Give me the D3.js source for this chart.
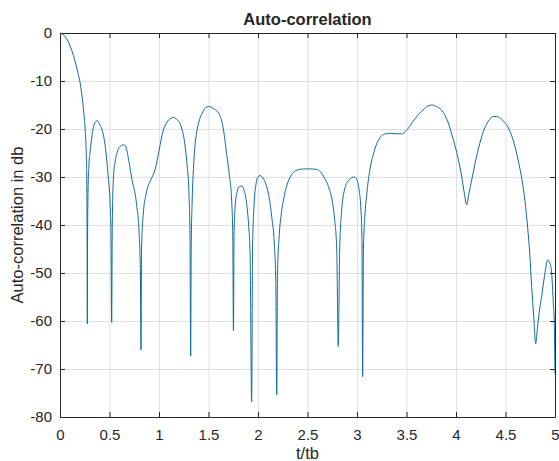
<!DOCTYPE html>
<html>
<head>
<meta charset="utf-8">
<script src="https://cdn.jsdelivr.net/npm/d3@7"></script>
<style>
  body { margin: 0; background: #fff; }
  text { font-family: "Liberation Sans", Arial, Helvetica, sans-serif; fill: #262626; }
</style>
</head>
<body>
<div id="chart"></div>
<script>
// Delay values t/tb
const tValues = [
  0, 0.03, 0.06, 0.09, 0.12, 0.15, 0.18, 0.2, 0.22, 0.24, 0.255, 0.265, 0.271, 0.274, 0.276,
  0.278, 0.283, 0.292, 0.303, 0.32, 0.345, 0.377, 0.405, 0.43, 0.455, 0.475, 0.488, 0.505, 0.515, 0.522,
  0.528, 0.539, 0.555, 0.572, 0.6, 0.646, 0.67, 0.69, 0.724, 0.774, 0.8, 0.812, 0.818,
  0.824, 0.84, 0.87, 0.92, 0.96, 1.0, 1.04, 1.08, 1.11, 1.145, 1.18, 1.229, 1.26, 1.28, 1.303, 1.313, 1.32,
  1.325, 1.335, 1.35, 1.364, 1.38, 1.41, 1.43, 1.46, 1.485, 1.508, 1.54, 1.57, 1.616, 1.65, 1.684, 1.71, 1.734, 1.745, 1.752,
  1.758, 1.77, 1.79, 1.81, 1.835, 1.86, 1.885, 1.905, 1.92, 1.936,
  1.945, 1.96, 1.98, 2.0, 2.02, 2.05, 2.08, 2.11, 2.14, 2.165, 2.18, 2.189,
  2.197, 2.215, 2.24, 2.27, 2.3, 2.34, 2.38, 2.42, 2.5, 2.59, 2.63, 2.66, 2.69, 2.72, 2.75, 2.775, 2.795, 2.811,
  2.825, 2.845, 2.87, 2.92, 2.97, 3.0, 3.02, 3.04, 3.05, 3.057,
  3.065, 3.08, 3.098, 3.13, 3.165, 3.2, 3.24, 3.27, 3.33, 3.4, 3.45, 3.5, 3.56, 3.62, 3.68, 3.73, 3.764,
  3.8, 3.85, 3.89, 3.93, 3.96, 3.99, 4.03, 4.06, 4.085, 4.108, 4.13, 4.16, 4.19, 4.24, 4.29, 4.34, 4.38, 4.41,
  4.45, 4.49, 4.53, 4.58, 4.63, 4.67, 4.697, 4.724, 4.745, 4.764, 4.785, 4.805, 4.825, 4.845, 4.865, 4.895,
  4.926, 4.95, 4.966, 4.983, 4.992, 5.0
];

// Auto-correlation in dB at each delay
const dbValues = [
  0, -0.3, -1.0, -2.1, -3.7, -5.7, -8.2, -10.0, -12.8, -16.5, -20.5, -25, -32, -44, -60.6,
  -45, -33, -27.5, -25, -21.9, -19, -18.3, -19.2, -20.5, -23.3, -27, -30.2, -35, -42, -60.3,
  -40, -30.5, -27, -25.3, -23.8, -23.3, -24, -26, -30.2, -35.8, -42, -50, -66,
  -45, -38, -33.5, -30.5, -28.5, -24.5, -20.5, -18.6, -17.9, -17.6, -18, -19.8, -23, -26.7, -33.7, -42, -67.3,
  -45, -35, -27.5, -23.3, -20.8, -18, -17, -15.8, -15.4, -15.3, -15.6, -16, -17.2, -20, -25.3, -29.5, -35, -42, -62,
  -42, -36, -33, -32, -31.9, -32.8, -35.5, -40, -46, -76.8,
  -45, -36, -31.5, -30, -29.7, -30.2, -31.5, -34, -38.5, -44, -52, -75.4,
  -50, -42, -37, -33.5, -31.2, -29.5, -28.7, -28.4, -28.3, -28.4, -28.9, -29.8, -30.9, -32.5, -35, -39, -45, -65.3,
  -45, -37, -33, -30.6, -30, -30.6, -32.5, -37, -43, -71.6,
  -45, -38, -33.7, -28.5, -25.3, -23, -21.6, -21.1, -20.9, -21, -21, -20.3, -18.6, -17, -15.8, -15.1, -15,
  -15.3, -16, -17.2, -19.2, -21.3, -23.5, -27, -30.2, -33.5, -35.8, -33.5, -30.5, -27.4, -23, -19.8, -18, -17.4, -17.4,
  -17.8, -18.6, -19.8, -22.5, -26.7, -31, -35.1, -40.6, -46, -52.8, -59, -64.7, -61, -57.5, -54.9, -50.5,
  -47.3, -48, -50, -56.3, -60, -71
];

// Tick values for both axes
const xTicks = [0, 0.5, 1, 1.5, 2, 2.5, 3, 3.5, 4, 4.5, 5];
const yTicks = [0, -10, -20, -30, -40, -50, -60, -70, -80];

const width = 559, height = 461;
const margin = { top: 33, right: 4, bottom: 44, left: 60 };
const innerW = width - margin.left - margin.right;
const innerH = height - margin.top - margin.bottom;

const points = tValues.map((t, i) => ({ t: t, db: dbValues[i] }));

const svg = d3.select("#chart")
  .append("svg")
  .attr("width", width)
  .attr("height", height);

const x = d3.scaleLinear().domain([0, 5]).range([0, innerW]);
const y = d3.scaleLinear().domain([-80, 0]).range([innerH, 0]);

const g = svg.append("g")
  .attr("transform", `translate(${margin.left},${margin.top})`);

// Grid lines
g.selectAll("line.vgrid")
  .data(xTicks)
  .enter()
  .append("line")
  .attr("class", "vgrid")
  .attr("x1", d => x(d) + 0.5).attr("x2", d => x(d) + 0.5)
  .attr("y1", 0).attr("y2", innerH)
  .attr("stroke", "#dfdfdf");

g.selectAll("line.hgrid")
  .data(yTicks)
  .enter()
  .append("line")
  .attr("class", "hgrid")
  .attr("x1", 0).attr("x2", innerW)
  .attr("y1", d => y(d) + 0.5).attr("y2", d => y(d) + 0.5)
  .attr("stroke", "#dfdfdf");

// The curve
const line = d3.line()
  .x(d => x(d.t))
  .y(d => y(d.db))
  .curve(d3.curveMonotoneX);

g.append("path")
  .datum(points)
  .attr("d", line)
  .attr("fill", "none")
  .attr("stroke", "#0f6c99")
  .attr("stroke-width", 1);

// Axes, ticks pointing inward on all four sides like MATLAB's box
const fmt = d => String(d);

const xBottom = g.append("g")
  .attr("transform", `translate(0,${innerH})`)
  .call(d3.axisBottom(x).tickValues(xTicks).tickFormat(fmt).tickSizeInner(-5).tickSizeOuter(0).tickPadding(12));
const xTop = g.append("g")
  .call(d3.axisTop(x).tickValues(xTicks).tickFormat("").tickSizeInner(-5).tickSizeOuter(0));
const yLeft = g.append("g")
  .call(d3.axisLeft(y).tickValues(yTicks).tickFormat(fmt).tickSizeInner(-5).tickSizeOuter(0).tickPadding(8));
const yRight = g.append("g")
  .attr("transform", `translate(${innerW},0)`)
  .call(d3.axisRight(y).tickValues(yTicks).tickFormat("").tickSizeInner(-5).tickSizeOuter(0));

[xBottom, xTop, yLeft, yRight].forEach(a => {
  a.select(".domain").attr("stroke", "#262626");
  a.selectAll(".tick line").attr("stroke", "#262626");
  a.selectAll("text").attr("font-size", 15).attr("fill", "#262626");
});

// Title and axis labels
svg.append("text")
  .attr("x", margin.left + innerW / 2)
  .attr("y", 25)
  .attr("text-anchor", "middle")
  .attr("font-size", 16.5)
  .attr("font-weight", "bold")
  .attr("fill", "#000")
  .text("Auto-correlation");

svg.append("text")
  .attr("x", margin.left + innerW / 2)
  .attr("y", 459)
  .attr("text-anchor", "middle")
  .attr("font-size", 16.5)
  .text("t/tb");

svg.append("text")
  .attr("transform", `translate(23,${margin.top + innerH / 2}) rotate(-90)`)
  .attr("text-anchor", "middle")
  .attr("font-size", 16.5)
  .text("Auto-correlation in db");
</script>
</body>
</html>
